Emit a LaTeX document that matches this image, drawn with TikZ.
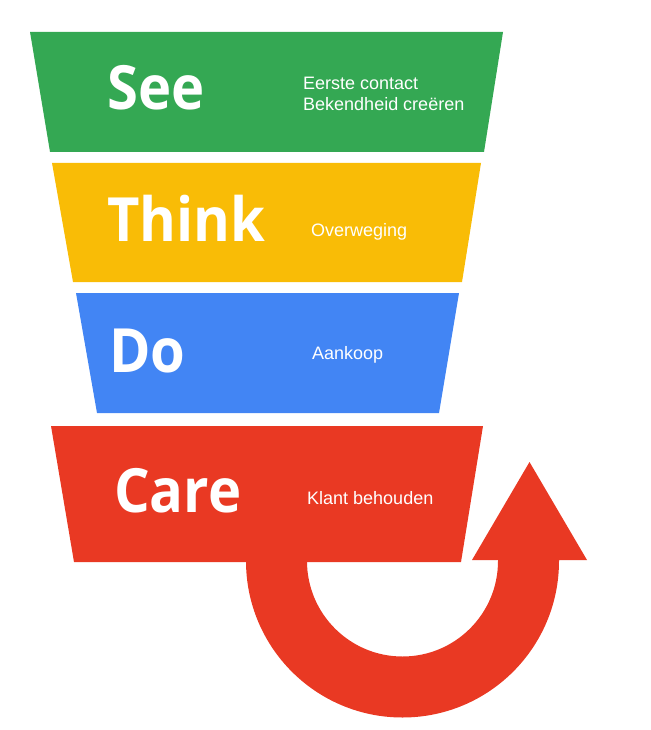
\documentclass[tikz,border=0pt]{standalone}
\usepackage{fontspec}
\setmainfont{Liberation Sans}
\newfontfamily\stagefont{Open Sans}[FakeStretch=0.92]
\usetikzlibrary{positioning,calc}
\definecolor{seegreen}{RGB}{52,168,83}
\definecolor{thinkyellow}{RGB}{249,188,6}
\definecolor{doblue}{RGB}{66,133,244}
\definecolor{carered}{RGB}{233,57,35}

\begin{document}
\begin{tikzpicture}[
  x=1pt, y=-1pt,
  band/.style={fill=#1, draw=none},
  stage/.style={
    text=white,
    inner sep=0pt,
    anchor=base west,
    font=\stagefont\bfseries\fontsize{61}{61}\selectfont
  },
  note/.style={
    text=white,
    inner sep=0pt,
    anchor=base west,
    align=left,
    font=\fontsize{18}{21}\selectfont
  }
]
\useasboundingbox (0,0) rectangle (650,730);

% -------- See --------
\fill[band=seegreen] (30,32) -- (503,32) -- (484,152) -- (50,152) -- cycle;
\node[stage] (see) at (107,110) {See};
\node[note, anchor=west] (seetext) at (303,94) {Eerste contact\\Bekendheid creëren};

% -------- Think --------
\fill[band=thinkyellow] (52,163) -- (481,163) -- (462,282) -- (73,282) -- cycle;
\node[stage] (think) at (107,241) {Think};
\node[note] (thinktext) at (311,236) {Overweging};

% -------- Do --------
\fill[band=doblue] (76,293) -- (459,293) -- (439,413) -- (97,413) -- cycle;
\node[stage] (do) at (109,372) {Do};
\node[note] (dotext) at (312,359) {Aankoop};

% -------- Care + return arrow --------
\fill[band=carered] (51,426) -- (483,426) -- (461,562) -- (74,562) -- cycle;
\fill[band=carered] (246,555) -- (246,561)
  arc[start angle=180, end angle=0, radius=156.5]
  -- (559,560) -- (587,560) -- (529.5,462) -- (472,560) -- (498,560) -- (498,561)
  arc[start angle=0, end angle=180, radius=95.5]
  -- (307,555) -- cycle;
\node[stage] (care) at (114,512) {Care};
\node[note] (caretext) at (307,504) {Klant behouden};

\end{tikzpicture}
\end{document}
